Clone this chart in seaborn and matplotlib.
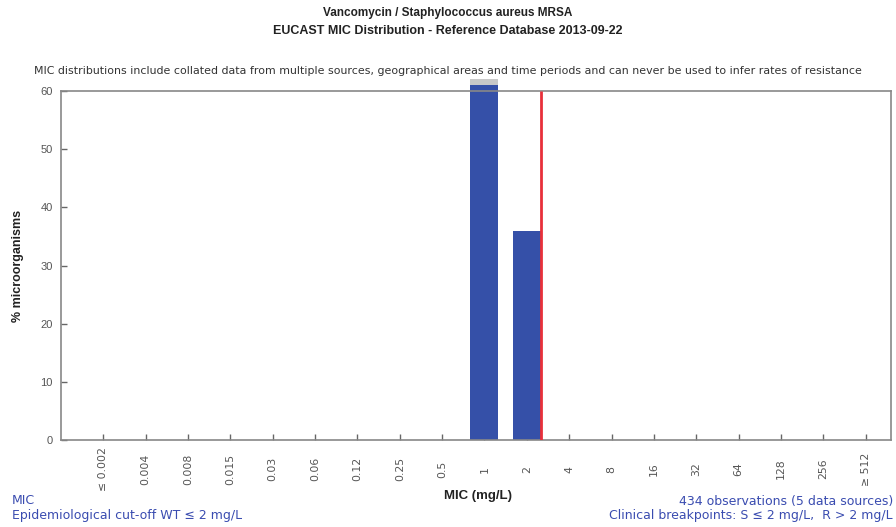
import matplotlib
matplotlib.use("Agg")
import matplotlib.pyplot as plt
import matplotlib.patches as mpatches
import seaborn as sns
import numpy as np
import pandas as pd

# ---- data ----
mic_labels = ["≤ 0.002", "0.004", "0.008", "0.015", "0.03", "0.06", "0.12", "0.25", "0.5",
              "1", "2", "4", "8", "16", "32", "64", "128", "256", "≥ 512"]
percent = [0, 0, 0, 0, 0, 0, 0, 0, 0, 64, 36, 0, 0, 0, 0, 0, 0, 0, 0]
breakpoint_after = "2"   # S <= 2, R > 2
y_max = 60
y_ticks = [0, 10, 20, 30, 40, 50, 60]

title1 = "Vancomycin / Staphylococcus aureus MRSA"
title2 = "EUCAST MIC Distribution - Reference Database 2013-09-22"
note = ("MIC distributions include collated data from multiple sources, geographical areas "
        "and time periods and can never be used to infer rates of resistance")
left1 = "MIC"
left2 = "Epidemiological cut-off WT ≤ 2 mg/L"
right1 = "434 observations (5 data sources)"
right2 = "Clinical breakpoints: S ≤ 2 mg/L,  R > 2 mg/L"

BAR = "#3550a8"
TXT = "#3a4cb0"
GREY = "#777777"

sns.set_theme(style="white")
plt.rcParams['font.family'] = ['Liberation Sans', 'DejaVu Sans']

fig = plt.figure(figsize=(8.96, 5.27), dpi=100)
ax = fig.add_axes([61/896, 1-440/527, (891-61)/896, (440-91)/527])

df = pd.DataFrame({"mic": mic_labels, "pct": percent})
bar_w = 0.66
sns.barplot(data=df, x="mic", y="pct", order=mic_labels, color=BAR, saturation=1,
            width=bar_w, ax=ax, edgecolor="none")

ax.set_ylim(0, y_max)
ax.set_xlim(-1, 18.6)

# overflow indication for bars exceeding the axis
for p, v in zip(ax.patches, percent):
    if v > y_max:
        p.set_height(y_max + 1.0)
        p.set_clip_on(False)
        cap = mpatches.Rectangle((p.get_x(), y_max + 1.0), p.get_width(), 1.0,
                                 facecolor="#c8c8c8", edgecolor="none", clip_on=False)
        ax.add_patch(cap)

# breakpoint line at the right edge of the breakpoint bar
bi = mic_labels.index(breakpoint_after)
ax.vlines(bi + bar_w / 2, 0, y_max, color="#e8303a", lw=2, zorder=5)

ax.set_yticks(y_ticks)
ax.set_xticks(range(len(mic_labels)))
ax.set_xticklabels(mic_labels, rotation=90, va="center", family=['DejaVu Sans'])
ax.tick_params(axis="both", direction="in", length=4, color="#666666", labelcolor="#555555",
               labelsize=8, width=1.0, bottom=True, left=True)
ax.tick_params(axis="x", pad=21, labelsize=7.8)
ax.tick_params(axis="y", pad=6)
for s in ax.spines.values():
    s.set_color("#888888")
    s.set_linewidth(1.2)

ax.set_xlabel("MIC (mg/L)", fontsize=9.5, fontweight="bold", color="#222222")
ax.xaxis.set_label_coords((478-61)/830, -(490-440)/349)
ax.set_ylabel("% microorganisms", fontsize=9, fontweight="bold", color="#222222", labelpad=12)

fig.text(0.5, 1-13/527, title1, ha="center", va="center", fontsize=8.5, fontweight="bold", color="#222222")
fig.text(0.5, 1-31/527, title2, ha="center", va="center", fontsize=9, fontweight="bold", color="#222222")
fig.text(0.5, 1-71/527, note, ha="center", va="center", fontsize=7.9, color="#333333",
         family=['DejaVu Sans'])
small = dict(fontsize=9, color=TXT, family=['DejaVu Sans'], va="center")
fig.text(12/896, 1-501/527, left1, ha="left", **small)
fig.text(12/896, 1-516/527, left2, ha="left", **small)
fig.text(893/896, 1-501/527, right1, ha="right", **small)
fig.text(893/896, 1-516/527, right2, ha="right", **small)

fig.savefig("out.png", dpi=100)
